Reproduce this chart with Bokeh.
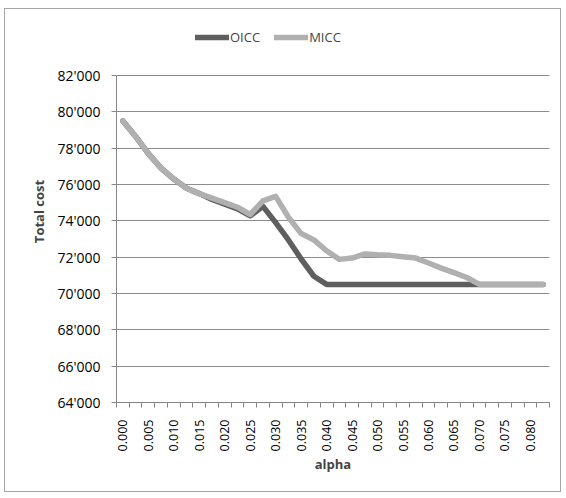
import math
from bokeh.plotting import figure
from bokeh.layouts import column
from bokeh.models import Range1d, FixedTicker, PrintfTickFormatter, Legend, LegendItem
from bokeh.embed import file_html
from bokeh.resources import INLINE

# ---- data -------------------------------------------------------------
alpha = [0.0000, 0.0025, 0.0050, 0.0075, 0.0100, 0.0125, 0.0150, 0.0175,
         0.0200, 0.0225, 0.0250, 0.0275, 0.0300, 0.0325, 0.0350, 0.0375,
         0.0400, 0.0425, 0.0450, 0.0475, 0.0500, 0.0525, 0.0550, 0.0575,
         0.0600, 0.0625, 0.0650, 0.0675, 0.0700, 0.0725, 0.0750, 0.0775,
         0.0800, 0.0825]

oicc = [79500, 78650, 77700, 76900, 76300, 75800, 75500, 75180,
        74920, 74660, 74280, 74800, 73900, 72950, 71900, 70950,
        70500, 70500, 70500, 70500, 70500, 70500, 70500, 70500,
        70500, 70500, 70500, 70500, 70500, 70500, 70500, 70500,
        70500, 70500]

micc = [79500, 78650, 77700, 76900, 76300, 75800, 75500, 75250,
        75000, 74750, 74350, 75100, 75350, 74200, 73300, 72950,
        72350, 71880, 71950, 72180, 72130, 72100, 72030, 71950,
        71680, 71400, 71150, 70880, 70500, 70500, 70500, 70500,
        70500, 70500]

x_label_ticks = [0.000, 0.005, 0.010, 0.015, 0.020, 0.025, 0.030, 0.035,
                 0.040, 0.045, 0.050, 0.055, 0.060, 0.065, 0.070, 0.075,
                 0.080]
y_ticks = [64000, 66000, 68000, 70000, 72000, 74000, 76000, 78000, 80000, 82000]
y_tick_labels = ["64'000", "66'000", "68'000", "70'000", "72'000",
                 "74'000", "76'000", "78'000", "80'000", "82'000"]

series_names = ["OICC", "MICC"]
series_colors = ["#5f5f5f", "#b0b0b0"]

FONT = "Open Sans"
half = (alpha[1] - alpha[0]) / 2.0
boundaries = [a - half for a in alpha] + [alpha[-1] + half]

# frame extends above the value axis to host the legend (axis/grid bounded)
y_top = 85030

p = figure(width=555, height=482, output_backend="svg", toolbar_location=None,
           x_range=Range1d(alpha[0] - half, alpha[-1] + half),
           y_range=Range1d(y_ticks[0], y_top),
           min_border_left=111, min_border_right=11,
           min_border_top=11, min_border_bottom=89)
p.outline_line_color = None
p.background_fill_color = "white"
p.border_fill_color = "white"

r1 = p.line(alpha, oicc, line_color=series_colors[0], line_width=5.5,
            line_cap="round", line_join="round")
r2 = p.line(alpha, micc, line_color=series_colors[1], line_width=5.5,
            line_cap="round", line_join="round")

# x axis
xa = p.xaxis[0]
xa.ticker = FixedTicker(ticks=x_label_ticks, minor_ticks=boundaries)
xa.formatter = PrintfTickFormatter(format="%.3f")
xa.major_label_orientation = math.pi / 2
xa.major_tick_out = 0
xa.major_tick_in = 0
xa.minor_tick_out = 5
xa.minor_tick_in = 0
xa.minor_tick_line_color = "#868686"
xa.axis_line_color = "#868686"
xa.major_label_standoff = 12
xa.major_label_text_font = FONT
xa.major_label_text_font_size = "12.5px"
xa.major_label_text_color = "#000000"
xa.axis_label = "alpha"
xa.axis_label_text_font = FONT
xa.axis_label_text_font_style = "bold"
xa.axis_label_text_font_size = "13px"
xa.axis_label_standoff = 1
p.xgrid.grid_line_color = None

# y axis
ya = p.yaxis[0]
ya.bounds = (y_ticks[0], y_ticks[-1])
ya.ticker = FixedTicker(ticks=y_ticks, minor_ticks=[])
ya.major_label_overrides = {t: l for t, l in zip(y_ticks, y_tick_labels)}
ya.major_tick_out = 5
ya.major_tick_in = 0
ya.major_tick_line_color = "#868686"
ya.axis_line_color = "#868686"
ya.major_label_standoff = 11
ya.major_label_text_font = FONT
ya.major_label_text_font_size = "14px"
ya.major_label_text_color = "#000000"
ya.axis_label = "Total cost"
ya.axis_label_text_font = FONT
ya.axis_label_text_font_style = "bold"
ya.axis_label_text_font_size = "13px"
ya.axis_label_standoff = 6
p.ygrid.grid_line_color = "#8c8c8c"
p.ygrid.grid_line_width = 1

legend = Legend(items=[LegendItem(label=series_names[0], renderers=[r1]),
                       LegendItem(label=series_names[1], renderers=[r2])],
                orientation="horizontal", location=(79, 356),
                padding=0, margin=0, spacing=14,
                glyph_width=34, glyph_height=16, label_height=16,
                label_standoff=1,
                label_text_font=FONT, label_text_font_size="13px",
                border_line_color=None, background_fill_alpha=0)
p.add_layout(legend, "center")

layout = column(p, margin=(8, 0, 0, 4),
                styles={"border": "1px solid #a6a6a6"})

open("out.html", "w").write(file_html(layout, INLINE))
